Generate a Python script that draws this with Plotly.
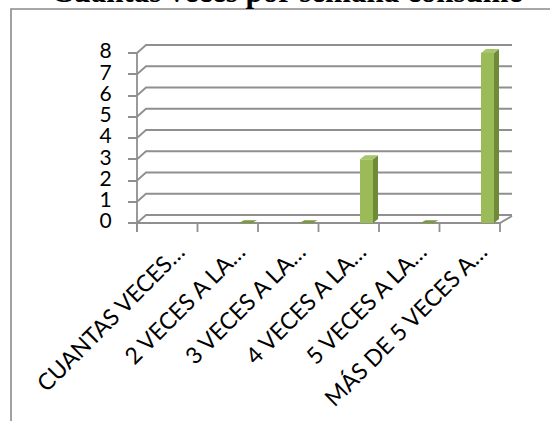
import plotly.graph_objects as go

# ---------------- data ----------------
categories = ["CUANTAS VECES…", "2 VECES A LA…", "3 VECES A LA…",
              "4 VECES A LA…", "5 VECES A LA…", "MÁS DE 5 VECES A…"]
values = [None, 0, 0, 3, 0, 8]
y_ticks = [0, 1, 2, 3, 4, 5, 6, 7, 8]
title_text = "Cuantas veces por semana consume"

# ---------------- layout geometry (pixels) ----------------
W, H = 550, 421
L, R, T, B = 100, 20, 30, 181
PW, PH = W - L - R, H - T - B
X0 = 137.0        # pixel of left category boundary
CAT = 60.5        # pixels per category
Y0 = 223.0        # pixel of value 0
UNIT = 21.25      # pixels per value unit

def ux(px):   # pixel offset -> x data units
    return px / CAT

def uy(px):   # pixel offset -> y data units
    return px / UNIT

xr = [-0.5 + (L - X0) / CAT, -0.5 + (L + PW - X0) / CAT]
yr = [(Y0 - (T + PH)) / UNIT, (Y0 - T) / UNIT]

def paper_x(px):
    return (px - L) / PW

def paper_y(py):
    return (T + PH - py) / PH

GRID = "#8f8f8f"
LW = 1.8
n = len(categories)
ymax = max(y_ticks)
left_b = -0.5
right_b = n - 0.5

shapes = []
# back wall gridlines with diagonal connector from axis
WDX, WDY = ux(9), uy(8)
wall_right = left_b + ux(375)
for v in y_ticks:
    shapes.append(dict(type="path", xref="x", yref="y", layer="below",
                       path=f"M {left_b},{v} L {left_b + WDX},{v + WDY} L {wall_right},{v + WDY}",
                       line=dict(color=GRID, width=LW)))
# floor front edge and right edge
shapes.append(dict(type="path", xref="x", yref="y", layer="below",
                   path=f"M {left_b},0 L {right_b},0 L {right_b + ux(12)},{uy(7)}",
                   line=dict(color=GRID, width=LW)))
# vertical axis line (extends down like a tick)
shapes.append(dict(type="line", xref="x", yref="y", layer="below",
                   x0=left_b, x1=left_b, y0=ymax, y1=-uy(9),
                   line=dict(color=GRID, width=LW)))
# boundary ticks on the category axis
for i in range(n + 1):
    b = -0.5 + i
    shapes.append(dict(type="line", xref="x", yref="y", layer="below",
                       x0=b, x1=b, y0=0, y1=-uy(9),
                       line=dict(color=GRID, width=LW)))

# 3D faces of bars
OFF, BW = ux(11.25), ux(13)
DX, DY = ux(5), uy(4)
for i, v in enumerate(values):
    if v is None:
        continue
    xl = i + OFF
    xrr = xl + BW
    if v > 0:
        shapes.append(dict(type="path", xref="x", yref="y", layer="above",
                           path=f"M {xrr},0 L {xrr},{v} L {xrr + DX},{v + DY} L {xrr + DX},{DY} Z",
                           fillcolor="#6f8b38", line=dict(width=0)))
    top_col = "#a9c56c" if v > 0 else "#7b9a3e"
    k = 1 if v > 0 else 0.7
    shapes.append(dict(type="path", xref="x", yref="y", layer="above",
                       path=f"M {xl},{v} L {xrr},{v} L {xrr + DX},{v + DY * k} L {xl + DX},{v + DY * k} Z",
                       fillcolor=top_col, line=dict(width=0)))

# outer chart border (top-left corner visible)
shapes.append(dict(type="path", xref="paper", yref="paper", layer="below",
                   path=f"M {paper_x(11)},{paper_y(440)} L {paper_x(11)},{paper_y(9)} L {paper_x(570)},{paper_y(9)}",
                   line=dict(color="#8a8a8a", width=1.6)))

fig = go.Figure()
fig.add_trace(go.Bar(x=list(range(n)), y=values, offset=OFF, width=BW,
                     marker=dict(color="#9bbb59", line=dict(width=0)),
                     showlegend=False, hoverinfo="skip"))

FONT = "Lato"
LABEL_SHIFT = ux(10.75)
axis_pos = paper_y(Y0)

fig.update_layout(
    width=W, height=H,
    margin=dict(l=L, r=R, t=T, b=B, pad=0, autoexpand=False),
    paper_bgcolor="white", plot_bgcolor="rgba(0,0,0,0)",
    showlegend=False,
    shapes=shapes,
    xaxis=dict(range=xr, anchor="free", position=axis_pos, automargin=False,
               tickmode="array", tickvals=[i + LABEL_SHIFT for i in range(n)],
               ticktext=categories, tickangle=-45, ticks="",
               ticklabelstandoff=10,
               showgrid=False, zeroline=False, showline=False,
               tickfont=dict(family=FONT, size=23, color="black")),
    yaxis=dict(range=yr, anchor="free", position=paper_x(X0), automargin=False,
               tickmode="array", tickvals=y_ticks,
               ticktext=[str(t) for t in y_ticks],
               ticks="outside", ticklen=9, tickwidth=LW, tickcolor=GRID,
               ticklabelstandoff=12, ticklabelshift=-2,
               showgrid=False, zeroline=False, showline=False,
               tickfont=dict(family=FONT, size=21, color="black")),
    annotations=[dict(text=f"<b>{title_text}</b>", xref="paper", yref="paper",
                      x=paper_x(286), y=paper_y(-8), xanchor="center", yanchor="middle",
                      showarrow=False,
                      font=dict(family="Liberation Serif", size=31, color="black"))],
)

fig.write_html("out.html")
